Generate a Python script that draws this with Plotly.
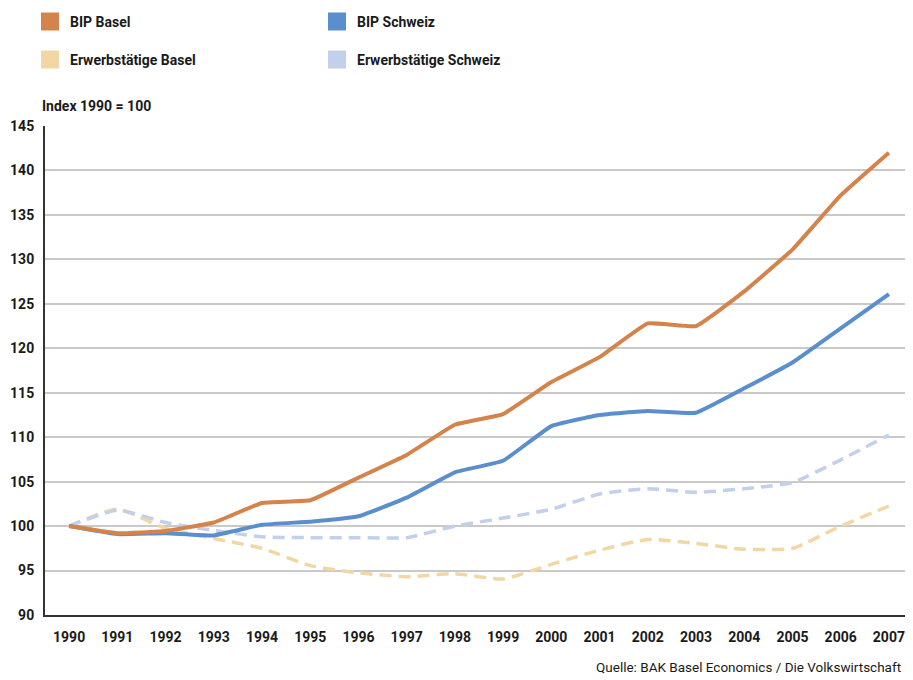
import plotly.graph_objects as go

years = [str(y) for y in range(1990, 2008)]
bip_basel = [100, 99.2, 99.45, 100.4, 102.6, 102.9, 105.45, 108.0, 111.4, 112.6,
             116.2, 119.0, 122.8, 122.5, 126.4, 131.1, 137.2, 142.0]
bip_schweiz = [100, 99.1, 99.2, 98.95, 100.15, 100.5, 101.1, 103.2, 106.05, 107.35,
               111.25, 112.5, 112.95, 112.75, 115.5, 118.4, 122.25, 126.1]
erw_basel = [100, 101.9, 99.75, 98.6, 97.5, 95.55, 94.75, 94.3, 94.65, 94.05,
             95.7, 97.3, 98.5, 98.05, 97.4, 97.5, 100.0, 102.25]
erw_schweiz = [100, 101.8, 100.4, 99.5, 98.8, 98.7, 98.7, 98.7, 100.0, 100.9,
               101.9, 103.6, 104.2, 103.8, 104.2, 104.9, 107.45, 110.25]
y_ticks = [90, 95, 100, 105, 110, 115, 120, 125, 130, 135, 140, 145]

C_BB = "#D4844A"
C_BS = "#5B8ECC"
C_EB = "#F2D7A4"
C_ES = "#C3D0EB"

FONT = "Roboto, 'Open Sans', Arial, sans-serif"

# The page body has an 8px default margin; size the figure so it ends at the window edge.
W, H = 905, 672

fig = go.Figure()
fig.add_trace(go.Scatter(x=years, y=erw_basel, mode="lines", showlegend=False,
                         line=dict(color=C_EB, width=3.5, dash="12px,7px", shape="spline", smoothing=0.5),
                         name="Erwerbstätige Basel"))
fig.add_trace(go.Scatter(x=years, y=erw_schweiz, mode="lines", showlegend=False,
                         line=dict(color=C_ES, width=3.5, dash="12px,7px", shape="spline", smoothing=0.5),
                         name="Erwerbstätige Schweiz"))
fig.add_trace(go.Scatter(x=years, y=bip_schweiz, mode="lines", showlegend=False,
                         line=dict(color=C_BS, width=4, shape="spline", smoothing=0.3),
                         name="BIP Schweiz"))
fig.add_trace(go.Scatter(x=years, y=bip_basel, mode="lines", showlegend=False,
                         line=dict(color=C_BB, width=4, shape="spline", smoothing=0.3),
                         name="BIP Basel"))


def swatch(name, color, legend):
    fig.add_trace(go.Scatter(x=[None], y=[None], mode="markers", name=name, legend=legend,
                             marker=dict(symbol="square", size=16, color=color,
                                         line=dict(color=color, width=2))))


swatch("BIP Basel", C_BB, "legend")
swatch("BIP Schweiz", C_BS, "legend")
swatch("Erwerbstätige Basel", C_EB, "legend2")
swatch("Erwerbstätige Schweiz", C_ES, "legend2")

leg_common = dict(orientation="h", xref="container", yref="container",
                  x=22 / W, xanchor="left", yanchor="middle",
                  entrywidth=242, entrywidthmode="pixels",
                  font=dict(family=FONT, size=14, color="#1a1a1a", weight="bold"),
                  bgcolor="rgba(0,0,0,0)", itemclick=False, itemdoubleclick=False)

fig.update_layout(
    width=W, height=H,
    margin=dict(l=37, r=0, t=118, b=65),
    paper_bgcolor="white", plot_bgcolor="white",
    font=dict(family=FONT, size=14, color="#1a1a1a"),
    legend=dict(**leg_common, y=1 - 14 / H),
    legend2=dict(**leg_common, y=1 - 52 / H),
    xaxis=dict(
        type="category", range=[-0.5, 17.5],
        showgrid=False, showline=True, linecolor="#333333", linewidth=2,
        ticks="", ticklabelstandoff=8,
        tickfont=dict(family=FONT, size=14, color="#1a1a1a", weight="bold"),
        fixedrange=True,
    ),
    yaxis=dict(
        range=[90, 145], tickvals=y_ticks,
        showgrid=True, gridcolor="#c9c9c9", gridwidth=1.5,
        showline=True, linecolor="#333333", linewidth=2,
        ticks="", ticklabelstandoff=6, zeroline=False,
        tickfont=dict(family=FONT, size=14, color="#1a1a1a", weight="bold"),
        fixedrange=True,
    ),
    annotations=[
        dict(text="Index 1990 = 100", xref="paper", yref="paper",
             x=-5 / 868, y=1 + 20 / 489, xanchor="left", yanchor="middle",
             showarrow=False, font=dict(family=FONT, size=14, color="#1a1a1a", weight="bold")),
        dict(text="Quelle: BAK Basel Economics / Die Volkswirtschaft", xref="paper", yref="paper",
             x=1 - 10 / 868, y=-52 / 489, xanchor="right", yanchor="middle",
             showarrow=False, font=dict(family=FONT, size=13.5, color="#1a1a1a")),
    ],
)

fig.write_html("out.html")
